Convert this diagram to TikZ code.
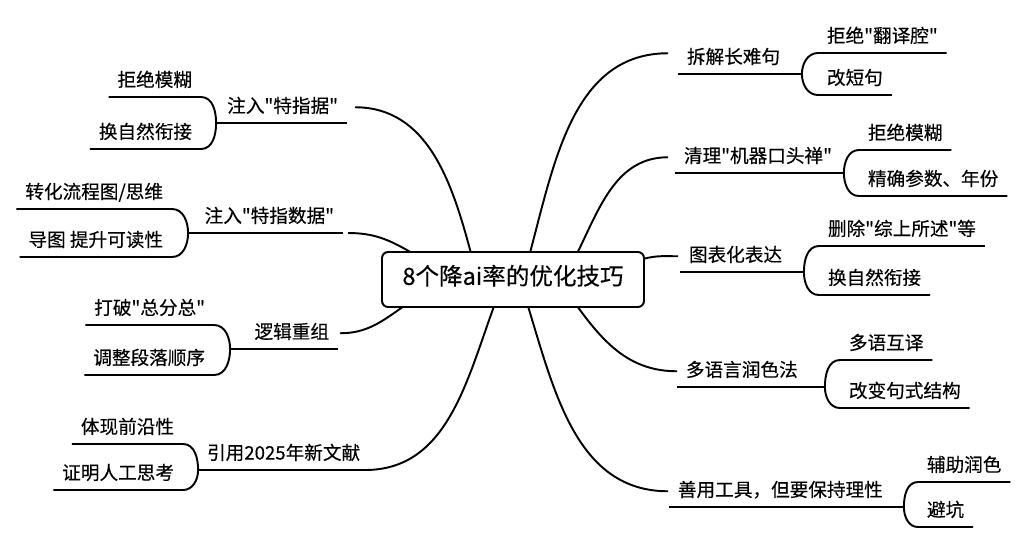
\documentclass[tikz,border=0pt]{standalone}
\usepackage{fontspec}
\newfontfamily\cjk{Noto Sans CJK SC}[FakeBold=0.35]
\usetikzlibrary{calc}

\tikzset{
  every node/.style={font=\cjk\fontsize{10.6pt}{12pt}\selectfont,
    inner ysep=0.12cm, text height=0.8em, text depth=0.2em},
  root/.style={draw, fill=white, rounded corners=0.12cm, minimum width=5.24cm,
    minimum height=1.1cm, inner sep=0pt, outer sep=0pt,
    font=\cjk\fontsize{13.4pt}{16pt}\selectfont},
  lbranch/.style={anchor=south east, align=right, inner xsep=0.16cm},
  rbranch/.style={anchor=south west, align=left, inner xsep=0.16cm},
  lsub/.style={anchor=south east, inner xsep=0.16cm},
  rsub/.style={anchor=south west, inner xsep=0.16cm},
}

\begin{document}
\begin{tikzpicture}[x=0.02cm, y=-0.02cm, line width=1.1pt]
  \useasboundingbox (0,0) rectangle (1024,559);

  \node[root] (c) at (513,279.5) {8个降ai率的优化技巧};

  % left branches
  \node[lbranch, text width=2.26cm] (l1) at (347,123) {注入"特指据"};
  \node[lbranch, text width=2.74cm] (l2) at (343,233) {注入"特指数据"};
  \node[lbranch, text width=1.80cm] (l3) at (338,349) {逻辑重组};
  \node[lbranch, text width=2.98cm] (l4) at (365,470) {引用2025年新文献};

  \node[lsub] (l1a) at (201,97) {拒绝模糊};
  \node[lsub] (l1b) at (201,149) {换自然衔接};
  \node[lsub] (l2a) at (172,209) {转化流程图/思维};
  \node[lsub] (l2b) at (172,257) {导图 提升可读性};
  \node[lsub] (l3a) at (214,325) {打破"总分总"};
  \node[lsub] (l3b) at (214,375) {调整段落顺序};
  \node[lsub] (l4a) at (183,444) {体现前沿性};
  \node[lsub] (l4b) at (183,490) {证明人工思考};

  % right branches
  \node[rbranch, text width=2.12cm] (r1) at (678,74) {拆解长难句};
  \node[rbranch, text width=3.02cm] (r2) at (675,173) {清理"机器口头禅"};
  \node[rbranch, text width=2.12cm] (r3) at (680,272) {图表化表达};
  \node[rbranch, text width=2.60cm] (r4) at (677,387) {多语言润色法};
  \node[rbranch, text width=4.34cm] (r5) at (669,507) {善用工具，但要保持理性};

  \node[rsub] (r1a) at (818,53) {拒绝"翻译腔"};
  \node[rsub] (r1b) at (818,95) {改短句};
  \node[rsub] (r2a) at (859,150) {拒绝模糊};
  \node[rsub] (r2b) at (859,196) {精确参数、年份};
  \node[rsub] (r3a) at (819,246) {删除"综上所述"等};
  \node[rsub] (r3b) at (819,295) {换自然衔接};
  \node[rsub] (r4a) at (840,360) {多语互译};
  \node[rsub] (r4b) at (840,408) {改变句式结构};
  \node[rsub] (r5a) at (918,482) {辅助润色};
  \node[rsub] (r5b) at (918,527) {避坑};

  % underlines
  \foreach \n in {l1,l2,l3,l4,r1,r2,r3,r4,r5}
    \draw (\n.south west) -- (\n.south east);

  % brackets
  \foreach \n in {l1,l2,l3,l4}
    \draw (\n a.south west) -- (\n a.south east) to[out=0,in=90] (\n.south west)
      to[out=270,in=0] (\n b.south east) -- (\n b.south west);
  \foreach \n in {r1,r2,r3,r4,r5}
    \draw (\n a.south east) -- (\n a.south west) to[out=180,in=90] (\n.south east)
      to[out=270,in=180] (\n b.south west) -- (\n b.south east);

  % curves from the root
  \draw (c.147) to[out=105,in=0] ($(l1.east)+(8,0)$);
  \draw (c.165) to[out=150,in=0] ($(l2.south east)+(5,0)$);
  \draw (c.194) to[out=215,in=0] ($(l3.east)+(2,0)$);
  \draw (c.235) to[out=250,in=0] (l4.south east);
  \draw (c.58) to[out=75,in=180] ($(r1.west)+(-10,-5)$);
  \draw (c.23) to[out=64,in=180] ($(r2.west)+(-7,0)$);
  \draw (c.9) to[out=15,in=180] ($(r3.west)+(-2,0)$);
  \draw (c.-23) to[out=-54,in=180] (r4.west);
  \draw (c.-61) to[out=-73,in=180] ($(r5.west)+(-1,0)$);
\end{tikzpicture}
\end{document}
